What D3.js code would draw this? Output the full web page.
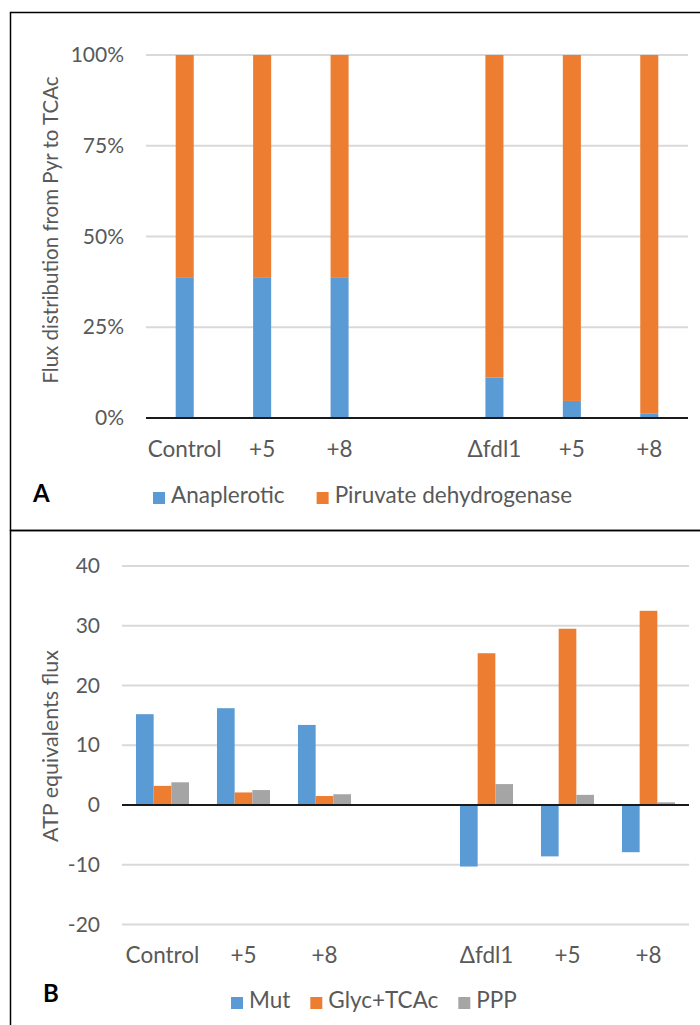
<!DOCTYPE html>
<html>
<head>
<meta charset="utf-8">
<script src="https://cdn.jsdelivr.net/npm/d3@7"></script>
<style>
  body { margin: 0; background: #fff; }
  text { font-family: Lato, "Open Sans", sans-serif; }
</style>
</head>
<body>
<svg id="chart" width="700" height="1025"></svg>
<script>
(function(){

  // DATA
  const categories = ["Control", "+5", "+8", "", "Δfdl1", "+5", "+8"];

  // panel A, % of flux from Pyr to TCAc
  const anaplerotic = [38.6, 38.6, 38.6, null, 11.1, 4.7, 1.3];
  const pyruvateDH  = [61.4, 61.4, 61.4, null, 88.9, 95.3, 98.7];
  const pctTicks = [0, 25, 50, 75, 100];

  // panel B, ATP equivalents flux
  const mut      = [15.2, 16.2, 13.4, null, -10.3, -8.6, -7.9];
  const glycTCAc = [3.2, 2.1, 1.5, null, 25.4, 29.5, 32.5];
  const ppp      = [3.8, 2.5, 1.8, null, 3.5, 1.7, 0.45];
  const atpTicks = [-20, -10, 0, 10, 20, 30, 40];

  const blue = "#5b9bd5", orange = "#ed7d31", grey = "#a5a5a5",
    textCol = "#595959", gridCol = "#d9d9d9",
    tickFs = 21, labelFs = 22.5, titleFs = 20.5;

  const svg = d3.select("#chart");
  svg.append("rect").attr("width", 700).attr("height", 1025).attr("fill", "#fff");

  // PANEL BORDERS
  svg.append("rect").attr("x", 10.5).attr("y", 12.5).attr("width", 700).attr("height", 518)
    .attr("fill", "none").attr("stroke", "#000").attr("stroke-width", 1.5);
  svg.append("rect").attr("x", 10.5).attr("y", 530.5).attr("width", 700).attr("height", 600)
    .attr("fill", "none").attr("stroke", "#000").attr("stroke-width", 1.5);

  // ---------- PANEL A ----------
  const plotA = {left: 146, right: 688};
  const yA = d3.scaleLinear().domain([0, 100]).range([418, 55]);
  const xA = d3.scaleBand()
    .domain(d3.range(categories.length))
    .range([plotA.left, plotA.right])
    .paddingInner(0.767)
    .paddingOuter(0.3835);

  const gA = svg.append("g");

  gA.selectAll(".gridA")
    .data(pctTicks.filter(d => d !== 0))
    .enter().append("line")
    .attr("x1", plotA.left).attr("x2", plotA.right)
    .attr("y1", d => yA(d)).attr("y2", d => yA(d))
    .attr("stroke", gridCol).attr("stroke-width", 2);

  const rowsA = categories.map((c, i) => ({i: i, ana: anaplerotic[i], pdh: pyruvateDH[i]}))
    .filter(r => r.ana !== null);
  const stackA = d3.stack().keys(["ana", "pdh"])(rowsA);
  const colA = {ana: blue, pdh: orange};

  gA.selectAll(".layer")
    .data(stackA)
    .enter().append("g")
    .attr("fill", d => colA[d.key])
    .selectAll("rect")
    .data(d => d)
    .enter().append("rect")
    .attr("x", d => xA(d.data.i))
    .attr("width", xA.bandwidth())
    .attr("y", d => yA(d[1]))
    .attr("height", d => yA(d[0]) - yA(d[1]));

  // zero line
  gA.append("line")
    .attr("x1", plotA.left).attr("x2", plotA.right)
    .attr("y1", yA(0)).attr("y2", yA(0))
    .attr("stroke", "#1a1a1a").attr("stroke-width", 2);

  const yAxisA = gA.append("g")
    .attr("transform", "translate(" + plotA.left + ",0)")
    .call(d3.axisLeft(yA).tickValues(pctTicks).tickFormat(d => d + "%").tickSize(0).tickPadding(22));
  yAxisA.select(".domain").remove();

  const xAxisA = gA.append("g")
    .attr("transform", "translate(0," + yA(0) + ")")
    .call(d3.axisBottom(xA).tickFormat(i => categories[i]).tickSize(0).tickPadding(23));
  xAxisA.select(".domain").remove();

  [yAxisA, xAxisA].forEach(ax => {
    ax.attr("font-family", null).attr("font-size", null);
    ax.selectAll("text").attr("fill", textCol).attr("font-size", ax === yAxisA ? tickFs : labelFs);
  });

  gA.append("text")
    .attr("transform", "translate(50,230) rotate(-90)")
    .attr("text-anchor", "middle")
    .attr("dominant-baseline", "central")
    .attr("fill", textCol)
    .attr("font-size", titleFs)
    .text("Flux distribution from Pyr to TCAc");

  gA.append("text")
    .attr("x", 33).attr("y", 502)
    .attr("font-size", 24).attr("font-weight", "bold").attr("fill", "#000")
    .text("A");

  // LEGEND
  function legend(items, x0, baseline, gap){
    let x = x0;
    items.forEach(it => {
      svg.append("rect").attr("x", x).attr("y", baseline - 11).attr("width", 12).attr("height", 12)
        .attr("fill", it.color);
      const t = svg.append("text").attr("x", x + 18).attr("y", baseline)
        .attr("fill", textCol).attr("font-size", labelFs).text(it.name);
      x += 18 + t.node().getComputedTextLength() + gap;
    });
  }
  legend([{name: "Anaplerotic", color: blue}, {name: "Piruvate dehydrogenase", color: orange}], 153, 503, 32);

  // ---------- PANEL B ----------
  const plotB = {left: 122, right: 689};
  const yB = d3.scaleLinear().domain([-20, 40]).range([924.5, 566]);
  const x0 = d3.scaleBand()
    .domain(d3.range(categories.length))
    .range([plotB.left, plotB.right])
    .paddingInner(0.345)
    .paddingOuter(0.1725);
  const seriesB = [
    {key: "Mut", values: mut, color: blue},
    {key: "Glyc+TCAc", values: glycTCAc, color: orange},
    {key: "PPP", values: ppp, color: grey}
  ];
  const x1 = d3.scaleBand().domain(seriesB.map(s => s.key)).range([0, x0.bandwidth()]);

  const gB = svg.append("g");

  gB.selectAll(".gridB")
    .data(atpTicks.filter(d => d !== 0))
    .enter().append("line")
    .attr("x1", plotB.left).attr("x2", plotB.right)
    .attr("y1", d => yB(d)).attr("y2", d => yB(d))
    .attr("stroke", gridCol).attr("stroke-width", 2);

  seriesB.forEach(s => {
    gB.append("g").attr("fill", s.color)
      .selectAll("rect")
      .data(s.values.map((v, i) => ({i: i, v: v})).filter(d => d.v !== null))
      .enter().append("rect")
      .attr("x", d => x0(d.i) + x1(s.key))
      .attr("width", x1.bandwidth())
      .attr("y", d => yB(Math.max(0, d.v)))
      .attr("height", d => Math.abs(yB(d.v) - yB(0)));
  });

  gB.append("line")
    .attr("x1", plotB.left).attr("x2", plotB.right)
    .attr("y1", yB(0)).attr("y2", yB(0))
    .attr("stroke", "#1a1a1a").attr("stroke-width", 2);

  const yAxisB = gB.append("g")
    .attr("transform", "translate(" + plotB.left + ",0)")
    .call(d3.axisLeft(yB).tickValues(atpTicks).tickFormat(d => String(d)).tickSize(0).tickPadding(22));
  yAxisB.select(".domain").remove();

  const xAxisB = gB.append("g")
    .attr("transform", "translate(0," + yB(-20) + ")")
    .call(d3.axisBottom(x0).tickFormat(i => categories[i]).tickSize(0).tickPadding(23));
  xAxisB.select(".domain").remove();

  [yAxisB, xAxisB].forEach(ax => {
    ax.attr("font-family", null).attr("font-size", null);
    ax.selectAll("text").attr("fill", textCol).attr("font-size", ax === yAxisB ? tickFs : labelFs);
  });

  gB.append("text")
    .attr("transform", "translate(50,746) rotate(-90)")
    .attr("text-anchor", "middle")
    .attr("dominant-baseline", "central")
    .attr("fill", textCol)
    .attr("font-size", titleFs + 1)
    .text("ATP equivalents flux");

  gB.append("text")
    .attr("x", 43).attr("y", 1002)
    .attr("font-size", 24).attr("font-weight", "bold").attr("fill", "#000")
    .text("B");

  legend(seriesB.map(s => ({name: s.key, color: s.color})), 231, 1008, 20);

})()
</script>
</body>
</html>
